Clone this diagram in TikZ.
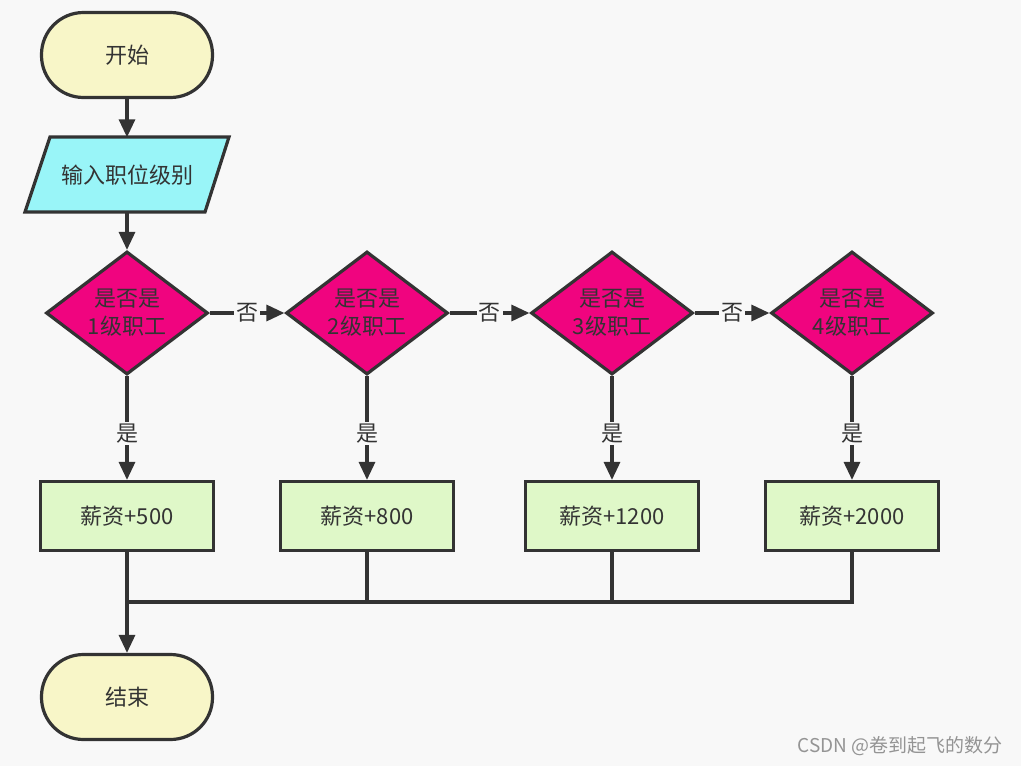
\documentclass[tikz,border=0pt]{standalone}
\usepackage{fontspec}
\setmainfont{Noto Sans CJK SC}
\usetikzlibrary{shapes.geometric,arrows.meta}
\definecolor{bg}{HTML}{F8F8F8}
\definecolor{ln}{HTML}{333333}
\definecolor{term}{HTML}{F8F6C8}
\definecolor{io}{HTML}{99F5F8}
\definecolor{dec}{HTML}{F0047F}
\definecolor{proc}{HTML}{DFF8C8}
\begin{document}
\begin{tikzpicture}[x=1pt,y=-1pt, font=\fontsize{22}{28}\selectfont, text=ln,
 base/.style={draw=ln, line width=3.2pt},
 terminal/.style={base, fill=term, rounded corners=42pt, minimum width=171pt, minimum height=85pt},
 decision/.style={base, fill=dec, diamond, aspect=1.32, inner sep=0pt, minimum width=162pt, minimum height=123pt, align=center},
 process/.style={base, fill=proc, minimum width=173pt, minimum height=69pt},
 flow/.style={draw=ln, line width=3.2pt, -{Triangle[length=18pt,width=16pt]}},
 wire/.style={draw=ln, line width=3.2pt},
 lbl/.style={fill=bg, inner sep=2pt}]
\fill[bg] (0,0) rectangle (1021,766);
\useasboundingbox (0,0) rectangle (1021,766);

\node[terminal] (start) at (127,55) {开始};

% input parallelogram
\node[minimum width=204pt, minimum height=75pt, inner sep=0pt] (inp) at (127,175) {};
\draw[base, fill=io] (50,137) -- (229,137) -- (205,212) -- (25,212) -- cycle;
\node at (inp.center) {输入职位级别};

\node[decision] (d1) at (127,313) {是否是\\1级职工};
\node[decision] (d2) at (367,313) {是否是\\2级职工};
\node[decision] (d3) at (612,313) {是否是\\3级职工};
\node[decision] (d4) at (852,313) {是否是\\4级职工};

\node[process] (b1) at (127,516) {薪资+500};
\node[process] (b2) at (367,516) {薪资+800};
\node[process] (b3) at (612,516) {薪资+1200};
\node[process] (b4) at (852,516) {薪资+2000};

\node[terminal] (end) at (127,697) {结束};

\draw[flow] (start) -- (inp.north);
\draw[flow] (inp.south) -- (d1.north);

\draw[flow] (d1.east) -- node[lbl] {否} (d2.west);
\draw[flow] (d2.east) -- node[lbl] {否} (d3.west);
\draw[flow] (d3.east) -- node[lbl] {否} (d4.west);

\draw[flow] (d1.south) -- node[lbl, pos=0.55] {是} (b1.north);
\draw[flow] (d2.south) -- node[lbl, pos=0.55] {是} (b2.north);
\draw[flow] (d3.south) -- node[lbl, pos=0.55] {是} (b3.north);
\draw[flow] (d4.south) -- node[lbl, pos=0.55] {是} (b4.north);

\coordinate (m) at (127,602);
\draw[wire] (b2.south) |- (m);
\draw[wire] (b3.south) |- (m);
\draw[wire] (b4.south) |- (m);
\draw[flow] (b1.south) -- (end.north);

\node[text=black!42, font=\fontsize{19}{22}\selectfont] (wm) at (900,746) {CSDN @卷到起飞的数分};
\end{tikzpicture}
\end{document}
